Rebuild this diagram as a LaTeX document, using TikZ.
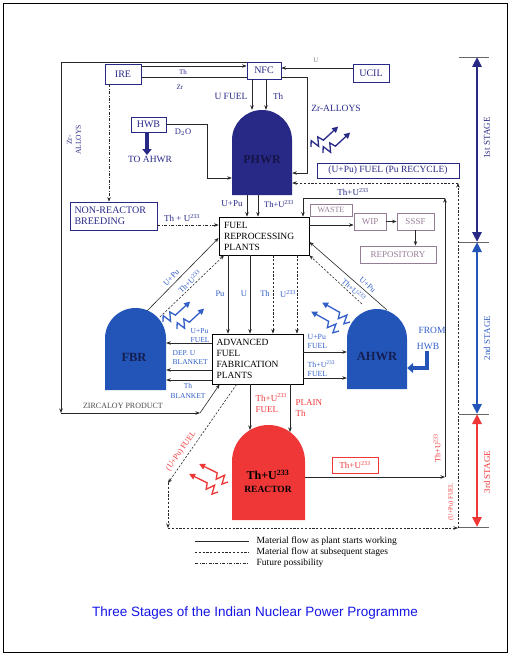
\documentclass[tikz,border=0pt]{standalone}
\usepackage{fontspec}
\setmainfont{Liberation Serif}
\newfontfamily\capfont{Liberation Sans}
\usetikzlibrary{arrows.meta,calc}
\definecolor{navyc}{RGB}{40,40,135}
\definecolor{bluec}{RGB}{35,85,185}
\definecolor{redc}{RGB}{240,55,55}
\definecolor{labblue}{RGB}{50,95,200}
\definecolor{graybox}{RGB}{150,125,150}
\definecolor{lnc}{RGB}{40,40,40}
\newcommand{\domefill}[5]{%
  \fill[#1] (#2,#5) -- (#2,{#4+0.5*(#3-#2)})
   .. controls (#2,{#4+0.224*(#3-#2)}) and ({0.5*(#2+#3)-0.276*(#3-#2)},#4) .. ({0.5*(#2+#3)},#4)
   .. controls ({0.5*(#2+#3)+0.276*(#3-#2)},#4) and (#3,{#4+0.224*(#3-#2)}) .. (#3,{#4+0.5*(#3-#2)})
   -- (#3,#5) -- cycle;}
\newcommand{\fs}[1]{\fontsize{#1}{#1}\selectfont}
\begin{document}
\begin{tikzpicture}[x=1pt,y=-1pt,
  arr/.style={draw=lnc,line width=0.6pt,-{Stealth[length=4.5pt,width=3.5pt]}},
  plain/.style={draw=lnc,line width=0.6pt},
  dline/.style={dash pattern=on 2.2pt off 1.6pt},
  ddline/.style={dash pattern=on 3pt off 1.5pt on 0.8pt off 1.5pt},
  lbl/.style={inner sep=0.5pt,font=\fontsize{8}{9}\selectfont},
  nlbl/.style={lbl,text=navyc},
  blbl/.style={lbl,text=labblue},
  rlbl/.style={lbl,text=redc},
  nbox/.style={draw=navyc,line width=0.8pt,text=navyc,inner sep=1pt,font=\fontsize{10}{11}\selectfont},
  gbox/.style={draw=graybox,line width=0.8pt,text=graybox,inner sep=1pt,font=\fontsize{9}{10}\selectfont},
  bbox/.style={draw=black,line width=0.8pt,fill=white,align=left,inner sep=1pt,font=\fontsize{9.5}{11}\selectfont},
  domenode/.style={inner sep=0pt,draw=none},
  stagetxt/.style={rotate=90,inner sep=0.5pt,font=\fontsize{9}{10}\selectfont},
  rad/.pic={\draw[line width=1.3pt,-{Triangle[length=6pt,width=6pt]}] (0,0) -- (4,-5) -- (6.5,4) -- (11.5,-4) -- (14,2) -- (34,0);}
]
\useasboundingbox (0,0) rectangle (515,658);
\draw[line width=0.9pt] (3,3) rectangle (507,652);

% ---------- domes ----------
\domefill{navyc}{232}{292}{110}{195}
\domefill{bluec}{105}{166}{308}{390}
\domefill{bluec}{347}{407}{309}{389}
\domefill{redc}{232}{305}{425}{520}
\node[domenode,minimum width=60pt,minimum height=85pt] (phwr) at (262,152.5) {};
\node[domenode,minimum width=61pt,minimum height=82pt] (fbr) at (135.5,349) {};
\node[domenode,minimum width=60pt,minimum height=80pt] (ahwr) at (377,349) {};
\node[domenode,minimum width=73pt,minimum height=95pt] (reac) at (268.5,472.5) {};
\node[text={rgb,255:red,20;green,20;blue,70},font=\bfseries\fs{12}] (phwrt) at (262,160) {PHWR};
\node[text={rgb,255:red,20;green,30;blue,80},font=\bfseries\fs{12.5}] (fbrt) at (134,357) {FBR};
\node[text={rgb,255:red,20;green,30;blue,80},font=\bfseries\fs{12.5}] (ahwrt) at (377,356) {AHWR};
\node[font=\bfseries\fs{12}] (reat1) at (268,475) {Th+U\textsuperscript{233}};
\node[font=\bfseries\fs{9.5}] (reat2) at (268,489) {REACTOR};

% ---------- boxes ----------
\node[nbox,minimum width=36pt,minimum height=20pt] (ire) at (123,74) {IRE};
\node[nbox,minimum width=34pt,minimum height=17pt] (nfc) at (264,70.5) {NFC};
\node[nbox,minimum width=36pt,minimum height=18pt] (ucil) at (371,73) {UCIL};
\node[nbox,minimum width=35pt,minimum height=15pt] (hwb) at (148.5,124.5) {HWB};
\node[nbox,minimum width=87pt,minimum height=28pt,text width=78pt,align=left,font=\fontsize{10}{11}\selectfont] (nrb) at (113.5,216) {NON-REACTOR\\BREEDING};
\node[bbox,minimum width=90pt,minimum height=38pt,text width=80pt] (repro) at (264,236) {FUEL\\REPROCESSING\\PLANTS};
\node[bbox,minimum width=91pt,minimum height=50pt,text width=82pt] (fab) at (257.5,359) {ADVANCED\\FUEL\\FABRICATION\\PLANTS};
\node[nbox,minimum width=142pt,minimum height=15pt,font=\fs{9.5}] (pufuel) at (388,170.5) {(U+Pu) FUEL (Pu RECYCLE)};
\node[gbox,minimum width=42pt,minimum height=12pt,font=\fs{8}] (waste) at (331,210) {WASTE};
\node[gbox,minimum width=32pt,minimum height=17pt] (wip) at (370,221.5) {WIP};
\node[gbox,minimum width=37pt,minimum height=17pt] (sssf) at (415.5,221.5) {SSSF};
\node[gbox,minimum width=76pt,minimum height=17pt] (repo) at (398,254.5) {REPOSITORY};
\node[draw=redc,line width=0.8pt,text=redc,inner sep=1pt,minimum width=46pt,minimum height=16pt,font=\fs{9}] (thbox) at (355,465) {Th+U\textsuperscript{233}};

% ---------- coordinates ----------
\coordinate (tl) at (61,62);
\coordinate (bl) at (61,413);
\coordinate (zb) at (200,413);
\coordinate (zr1) at (307,77);
\coordinate (zr2) at (307,173);
\coordinate (d1) at (207,124);
\coordinate (d2) at (207,178);
\coordinate (r1) at (445,477);
\coordinate (r2) at (445,198);
\coordinate (r3) at (303,198);
\coordinate (p1) at (168,483);
\coordinate (p2) at (168,528);
\coordinate (p3) at (458,528);
\coordinate (p4) at (458,183);
\coordinate (f1) at (147,311);
\coordinate (f2) at (160,317);
\coordinate (a1) at (387,310);
\coordinate (a2) at (362,304);
\coordinate (rt1) at (250,430);
\coordinate (rt2) at (290,432);
\coordinate (h1) at (427,351);

% ---------- labels ----------
\node[nlbl,font=\fs{7}] (lth1) at (183,72) {Th};
\node[nlbl,font=\fs{7}] (lzr) at (180,87) {Zr};
\node[lbl,text=gray,font=\fs{7}] (lu) at (316,60) {U};
\node[nlbl,font=\fs{9.5}] (lufuel) at (231,96) {U FUEL};
\node[nlbl,font=\fs{9}] (lth2) at (278,96) {Th};
\node[nlbl,font=\fs{9.5}] (lzra) at (336,108) {Zr-ALLOYS};
\node[nlbl,rotate=90,align=center,font=\fontsize{7.5}{9}\selectfont] (lzrv) at (74,140) {Zr-\\ALLOYS};
\node[nlbl,font=\fs{8.5}] (ld2o) at (183,132) {D$_2$O};
\node[nlbl,font=\fs{9.5}] (ltoahwr) at (150,159) {TO AHWR};
\node[nlbl,font=\fs{9}] (lupu1) at (232,204) {U+Pu};
\node[nlbl,font=\fs{8.5}] (lthu1) at (279,204) {Th+U\textsuperscript{233}};
\node[nlbl,font=\fs{9}] (lthu2) at (353,192) {Th+U\textsuperscript{233}};
\node[nlbl,font=\fs{9}] (lthu3) at (182,218) {Th + U\textsuperscript{233}};
\node[blbl,font=\fs{8.5}] (lpu) at (220,294) {Pu};
\node[blbl,font=\fs{8.5}] (lu2) at (244,294) {U};
\node[blbl,font=\fs{8.5}] (lth3) at (265,294) {Th};
\node[blbl,font=\fs{8.5}] (lu233) at (288,294) {U\textsuperscript{233}};
\node[blbl,align=left,anchor=west,font=\fontsize{7.5}{9}\selectfont] (lfb1) at (190,336) {U+Pu\\FUEL};
\node[blbl,align=left,anchor=west,font=\fontsize{7.5}{9}\selectfont] (lfb2) at (172,357.5) {DEP. U\\BLANKET};
\node[blbl,align=center,font=\fontsize{7.5}{9.5}\selectfont] (lfb3) at (188,391) {Th\\BLANKET};
\node[blbl,align=left,anchor=west,font=\fontsize{7.8}{9}\selectfont] (lah1) at (307,341) {U+Pu\\FUEL};
\node[blbl,align=left,anchor=west,font=\fontsize{7.8}{9}\selectfont] (lah2) at (307,369) {Th+U\textsuperscript{233}\\FUEL};
\node[rlbl,align=left,anchor=west,font=\fontsize{9}{11}\selectfont] (lre1) at (255,403) {Th+U\textsuperscript{233}\\FUEL};
\node[rlbl,align=left,anchor=west,font=\fontsize{9}{11}\selectfont] (lre2) at (295,408) {PLAIN\\Th};
\node[blbl,font=\fs{9.5}] (lfrom) at (432,330) {FROM};
\node[blbl,font=\fs{9.5}] (lhwb) at (428,346) {HWB};
\node[lbl,text=black!70,font=\fs{8}] (lzirc) at (123,406) {ZIRCALOY PRODUCT};
\node[rlbl,rotate=90,font=\fs{6.5}] (lpuf2) at (451,502) {(U+Pu) FUEL};
\node[rlbl,rotate=90,font=\fs{8}] (lthv) at (437,448) {Th+U\textsuperscript{233}};

% ---------- connectors ----------
\draw[plain] (nfc.west |- tl) -- (tl);
\draw[arr] (tl) -- (bl);
\draw[arr] (bl) -- (zb);
\draw[arr] (zb) -- ([xshift=8pt]fab.south west);
\draw[arr] (ire.east |- 0,66) -- (nfc.west |- 0,66);
\draw[plain] (nfc.west |- 0,77) -- (ire.east |- 0,77);
\draw[arr] (ucil.west |- 0,68) -- (nfc.east |- 0,68);
\draw[arr] (nfc.south -| 252,0) -- (phwr.north -| 252,0);
\draw[arr] (nfc.south -| 266,0) -- (phwr.north -| 266,0);
\draw[arr] (nfc.east |- zr1) -- (zr1) -- (zr2) -- (phwr.east |- zr2);
\draw[arr] (hwb.east |- d1) -- (d1) -- (d2) -- (phwr.west |- d2);
\draw[navyc,line width=3.5pt,-{Triangle[length=6pt,width=9pt]}] (hwb.south -| 147,0) -- (ltoahwr.north -| 147,0);
\draw[arr,ddline] (ire.south -| 109,0) -- (nrb.north -| 109,0);
\draw[arr,ddline] (nrb.east |- 0,225) -- (repro.west |- 0,225);
\draw[arr] (phwr.south -| 247,0) -- (repro.north -| 247,0);
\draw[arr] (phwr.south -| 258,0) -- (repro.north -| 258,0);
\draw[arr] (reac.east |- r1) -- (r1);
\draw[arr] (r1) -- (r2);
\draw[arr] (r2) -- (r3) -- (repro.north -| r3);
\draw[arr,dline] ([xshift=25pt]fab.south west) -- node[rlbl,sloped,above=3pt,pos=0.72,font=\fs{8}] (lpuf1) {(U+Pu) FUEL} (p1);
\draw[arr,dline] (p1) -- (p2);
\draw[arr,dline] (p2) -- (p3);
\draw[arr,dline] (p3) -- (p4);
\draw[arr,dline] (p4) -- (phwr.east |- p4);
\draw[arr] (repro.east |- 0,225) -- (wip.west |- 0,225);
\draw[arr] (wip) -- (sssf);
\draw[arr] (sssf.south) -- (repo.north -| sssf.south);
\draw[arr] (repro.south -| 228,0) -- (fab.north -| 228,0);
\draw[arr] (repro.south -| 250,0) -- (fab.north -| 250,0);
\draw[arr,dline] (repro.south -| 273,0) -- (fab.north -| 273,0);
\draw[arr,dline] (repro.south -| 297,0) -- (fab.north -| 297,0);
\draw[arr] (fab.west |- 0,343) -- (fbr.east |- 0,343);
\draw[arr] (fab.west |- 0,370) -- (fbr.east |- 0,370);
\draw[arr] (fab.west |- 0,380) -- (fbr.east |- 0,380);
\draw[arr] (f1) -- node[blbl,sloped,above=2.5pt,pos=0.40,font=\fs{8}] (ldf1) {U+Pu} (repro.west |- 0,238);
\draw[arr,dline] (f2) -- node[blbl,sloped,above=1pt,pos=0.52,font=\fs{8}] (ldf2) {Th+U\textsuperscript{233}} (repro.south -| 224,0);
\draw[arr] (fab.east |- 0,352) -- (ahwr.west |- 0,352);
\draw[arr] (fab.east |- 0,378) -- (ahwr.west |- 0,378);
\draw[arr] (a1) -- node[blbl,sloped,above=2.5pt,pos=0.3,font=\fs{8}] (lda1) {U+Pu} (repro.east |- 0,242);
\draw[arr,dline] (a2) -- node[blbl,sloped,above=1pt,pos=0.22,font=\fs{8}] (lda2) {Th+U\textsuperscript{233}} (repro.south east);
\draw[arr] (fab.south -| rt1) -- (rt1);
\draw[arr] (fab.south -| rt2) -- (rt2);
\draw[bluec,line width=3.5pt,-{Triangle[length=6pt,width=10pt]}] (h1) |- (ahwr.east |- 0,368);

% ---------- radiation ----------
\pic[color=navyc,rotate=37] at (311,147) {rad};
\pic[color=navyc,rotate=37] at (323,153) {rad};
\pic[color=labblue,rotate=37] at (163,322) {rad};
\pic[color=labblue,rotate=37] at (177,329) {rad};
\pic[color=labblue,rotate=145] at (350,322) {rad};
\pic[color=labblue,rotate=145] at (339,331) {rad};
\pic[color=redc,rotate=148] at (228,482) {rad};
\pic[color=redc,rotate=148] at (218,492) {rad};

% ---------- stages ----------
\coordinate (s1) at (477,57);
\coordinate (s2) at (477,242);
\coordinate (s3) at (477,414);
\coordinate (s4) at (477,527);
\foreach \s in {s1,s2,s3,s4} \draw[gray!80!black,line width=0.8pt] ([xshift=-18pt]\s) -- ([xshift=12pt]\s);
\draw[navyc,line width=2.6pt,{Triangle[length=10pt,width=9pt]}-{Triangle[length=10pt,width=9pt]}] (s1) -- (s2);
\draw[bluec,line width=2.6pt,{Triangle[length=10pt,width=9pt]}-{Triangle[length=10pt,width=9pt]}] (s2) -- (s3);
\draw[redc,line width=2.6pt,{Triangle[length=10pt,width=9pt]}-{Triangle[length=10pt,width=9pt]}] (s3) -- (s4);
\node[stagetxt,text=navyc] (st1) at (487,138) {1st STAGE};
\node[stagetxt,text=labblue] (st2) at (487,338) {2nd STAGE};
\node[stagetxt,text=redc] (st3) at (487,472) {3rd STAGE};

% ---------- legend ----------
\coordinate (lg1a) at (195,541); \coordinate (lg1b) at (249,541);
\coordinate (lg2a) at (195,552); \coordinate (lg2b) at (249,552);
\coordinate (lg3a) at (195,563); \coordinate (lg3b) at (249,563);
\draw[plain] (lg1a) -- (lg1b);
\draw[plain,dline] (lg2a) -- (lg2b);
\draw[plain,ddline] (lg3a) -- (lg3b);
\node[lbl,anchor=west,font=\fs{9.5}] (lt1) at (256,541) {Material flow as plant starts working};
\node[lbl,anchor=west,font=\fs{9.5}] (lt2) at (256,552) {Material flow at subsequent stages};
\node[lbl,anchor=west,font=\fs{9.5}] (lt3) at (256,563) {Future possibility};

% ---------- caption ----------
\node[text={rgb,255:red,20;green,20;blue,230},font=\capfont\fs{13.5}] (cap) at (255,613) {Three Stages of the Indian Nuclear Power Programme};
\end{tikzpicture}
\end{document}
